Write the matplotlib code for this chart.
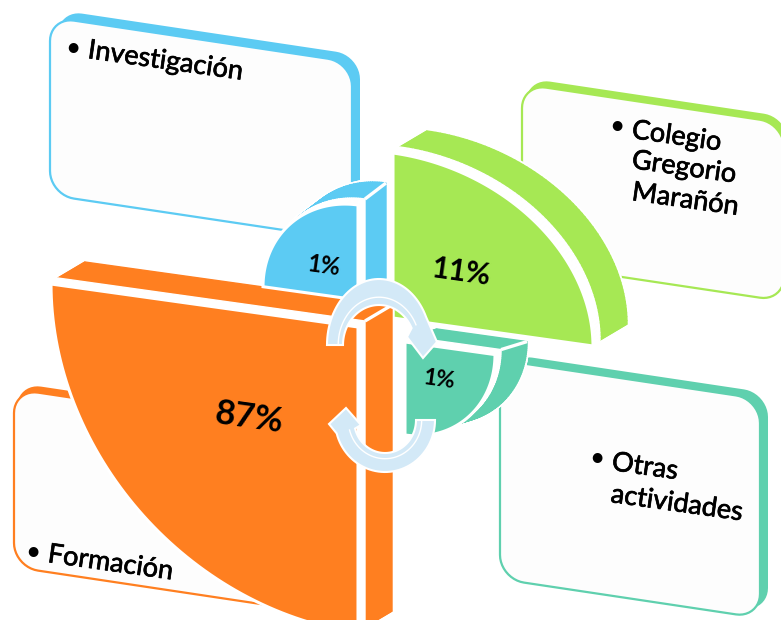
import numpy as np
import matplotlib
matplotlib.use('Agg')
import matplotlib.pyplot as plt
import matplotlib.patheffects as pe

# chart data
labels = [['Investigación'], ['Colegio', 'Gregorio', 'Marañón'], ['Otras', 'actividades'], ['Formación']]
shares = [1, 11, 1, 87]
colors = ['#5ccbf3', '#a6e854', '#5fd0ae', '#ff7f20']

# layout, in pixels of the 781x620 picture
SKEW = 0.14
BOX_SKEW = 0.15
FONT = 'Lato'
BOX_FILL = '#fdfdfd'
ARROW = '#d3e9f7'

fig = plt.figure(figsize=(7.81, 6.2), dpi=100)
ax = fig.add_axes([0, 0, 1, 1])
ax.set_xlim(0, 781)
ax.set_ylim(620, 0)
ax.axis('off')


def round_box(x0, y0, w, h, r):
    # rounded rectangle that follows the tilt of the diagram
    pts = []
    corners = [(x0 + r, y0 + r, 180, 270), (x0 + w - r, y0 + r, 270, 360),
               (x0 + w - r, y0 + h - r, 0, 90), (x0 + r, y0 + h - r, 90, 180)]
    for cx, cy, a, b in corners:
        t = np.radians(np.linspace(a, b, 12))
        pts.append(np.c_[cx + r * np.cos(t), cy + r * np.sin(t)])
    pts = np.vstack(pts)
    pts[:, 1] = pts[:, 1] + BOX_SKEW * (pts[:, 0] - x0)
    return pts


def draw_box(x0, y0, w, h, color, shift):
    pts = round_box(x0, y0, w, h, 24)
    ax.fill(pts[:, 0] + shift[0], pts[:, 1] + shift[1], color=color, lw=0, zorder=1)
    ax.fill(pts[:, 0], pts[:, 1], facecolor=BOX_FILL, edgecolor=color, lw=1.6, zorder=1)


def wedge_points(c, rx, ry, t0, t1):
    t = np.radians(np.linspace(t0, t1, 70))
    x = c[0] + rx * np.cos(t)
    y = c[1] - ry * np.sin(t) + SKEW * rx * np.cos(t)
    return np.vstack([[c], np.c_[x, y], [c]])


def sweep(pts, a, b, color, lw, z):
    a = np.array(a)
    b = np.array(b)
    for p, q in zip(pts[:-1], pts[1:]):
        quad = np.array([p + a, q + a, q + b, p + b])
        ax.fill(quad[:, 0], quad[:, 1], facecolor=color, edgecolor=color, lw=lw, zorder=z)


def draw_wedge(c, rx, ry, t0, t1, color, gap, depth, creases, z):
    pts = wedge_points(c, rx, ry, t0, t1)
    sweep(pts, gap, depth, 'white', 3.5, z)
    sweep(pts, gap, depth, color, 1.0, z + 0.1)
    sweep(pts, (0, 0), gap, 'white', 1.0, z + 0.2)
    for p in creases:
        ax.plot([p[0] + gap[0], p[0] + depth[0]], [p[1] + gap[1], p[1] + depth[1]],
                color='white', lw=2.4, zorder=z + 0.3, solid_capstyle='butt')
    ax.fill(pts[:, 0], pts[:, 1], facecolor=color, edgecolor='white', lw=2.2, zorder=z + 0.4)


def ring_arrow(c, outer, inner, t0, t1, head, z):
    t = np.radians(np.linspace(t0, t1, 50))
    ox = c[0] + outer[0] * np.cos(t)
    oy = c[1] - outer[1] * np.sin(t)
    ix = c[0] + inner[0] * np.cos(t)
    iy = c[1] - inner[1] * np.sin(t)
    x = np.r_[ox, [p[0] for p in head], ix[::-1]]
    y = np.r_[oy, [p[1] for p in head], iy[::-1]]
    ax.fill(x, y, facecolor=ARROW, edgecolor='white', lw=1.5, zorder=z, joinstyle='miter')
    ax.plot(ix + (ox - ix) * 0.3, iy + (oy - iy) * 0.3, color='white', lw=1, zorder=z + 0.1)


# text boxes behind the wedges
draw_box(50, 17, 302, 178, colors[0], (8, -7))
draw_box(522, 84, 262, 178, colors[1], (4, -6))
draw_box(500, 360, 260, 219, colors[2], (8, -6))
draw_box(14, 389, 300, 178, colors[3], (3, -6))

# wedges, the white outline of the later ones cuts the earlier ones
draw_wedge((405, 342), 90, 93, 270, 360, colors[2], (6, -5), (32, -13), [(495, 354.6)], 3)
draw_wedge((393, 318), 200, 165, 0, 90, colors[1], (7, -6), (34, -22), [], 4)
draw_wedge((358, 327), 307, 306, 180, 270, colors[3], (7, -6), (34, -22), [(358, 327)], 5)
draw_wedge((358, 300), 95, 95, 90, 180, colors[0], (7, -6), (28, -22), [(358, 205)], 6)

# share labels
share_style = [(324, 266, 17), (461, 272, 21.5), (439, 380, 16.5), (249, 418, 25)]
for share, (x, y, size) in zip(shares, share_style):
    ax.text(x, y, f'{share}%', fontsize=size, family=FONT, fontweight='bold', ha='center', va='center',
            rotation=-8, rotation_mode='anchor', color='black', zorder=9)

# box labels, one baseline start per line
line_starts = [[(87, 58)], [(631, 138), (631, 168), (631, 200)], [(611, 470), (610, 502)], [(47, 562)]]
bullets = [(73, 47), (617, 125), (597, 457), (33, 551)]
heavier = [pe.withStroke(linewidth=0.5, foreground='black')]
for lines, starts, (bx, by) in zip(labels, line_starts, bullets):
    for line, (x, y) in zip(lines, starts):
        ax.text(x, y, line, fontsize=19.5, family=FONT, ha='left', va='baseline', rotation=-8,
                rotation_mode='anchor', zorder=8, color='black', path_effects=heavier)
    ax.text(bx, by - 11, '•', fontsize=19, family=FONT, ha='center', va='top', zorder=8, color='black')

# circular arrows in the middle
ring_arrow((379, 345), (52, 66), (36, 40), 180, 25,
           [(437, 342), (423, 358), (407, 337)], 10)
ring_arrow((385, 420), (50, 52), (31, 33), 0, -165,
           [(329, 424), (346, 408), (361, 425)], 10)

fig.savefig('out.png', dpi=100, facecolor='white')
